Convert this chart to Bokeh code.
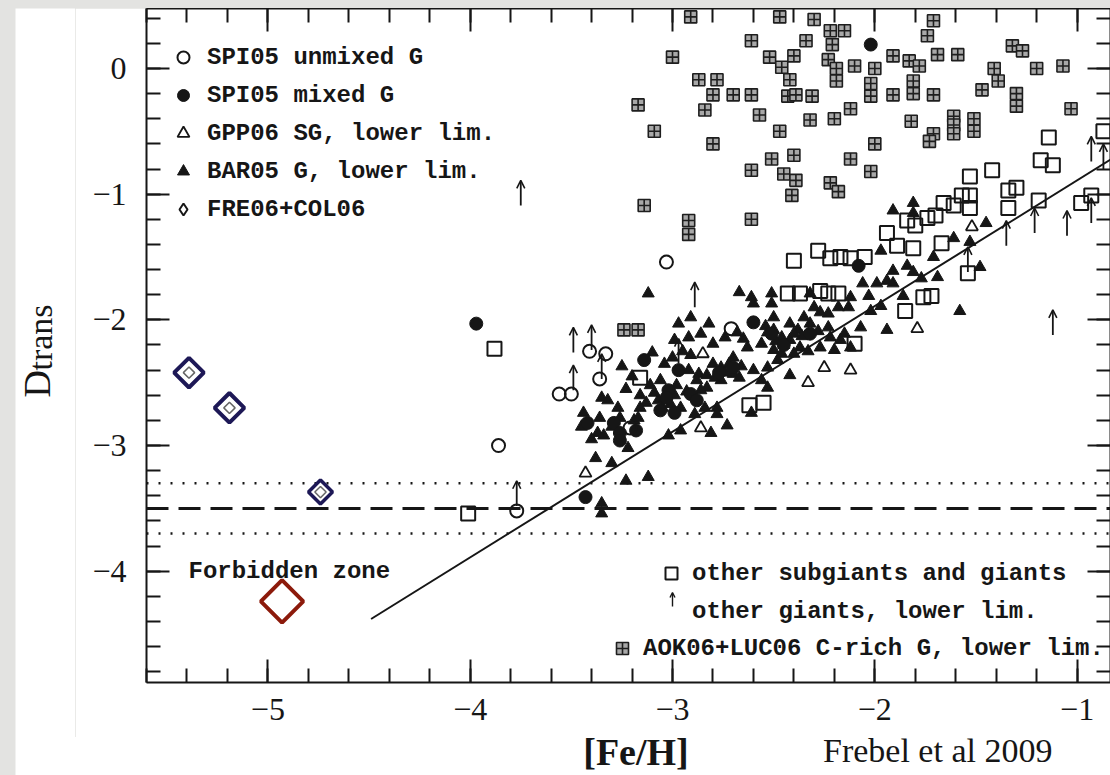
import numpy as np
from bokeh.plotting import figure
from bokeh.models import (ColumnDataSource, FixedTicker, LinearAxis, Span, Label,
                          Legend, LegendItem, Arrow, OpenHead, Range1d, Div)
from bokeh.layouts import column, row
from bokeh.embed import file_html
from bokeh.resources import INLINE

# ---------------- ticks ----------------
x_ticks = [-5, -4, -3, -2, -1]
x_tick_labels = ["\u22125", "\u22124", "\u22123", "\u22122", "\u22121"]
y_ticks = [-4, -3, -2, -1, 0]
y_tick_labels = ["\u22124", "\u22123", "\u22122", "\u22121", "0"]

# ---------------- data ([Fe/H], D_trans) ----------------
# SPI05 unmixed giants (open circles)
spi_unmixed_x = [-3.03, -3.86, -3.56, -3.50, -3.41, -3.33, -3.36, -3.77, -2.71, -3.21]
spi_unmixed_y = [-1.54, -3.00, -2.59, -2.59, -2.25, -2.27, -2.47, -3.52, -2.07, -2.86]

# SPI05 mixed giants (filled circles)
spi_mixed_x = [-3.97, -3.43, -2.02, -3.14, -2.97, -3.02, -3.06, -2.99, -3.42, -3.29,
               -3.26, -3.26, -2.60, -2.08, -2.51, -2.32, -2.91, -3.03, -2.77, -2.45,
               -2.70, -2.88, -3.18]
spi_mixed_y = [-2.03, -3.41, 0.19, -2.32, -2.40, -2.56, -2.72, -2.74, -2.82, -2.82,
               -2.90, -2.96, -2.02, -1.57, -2.11, -2.11, -2.59, -2.62, -2.42, -2.20,
               -2.38, -2.64, -2.88]

# GPP06 subgiants, lower limits (open triangles)
gpp_x = [-1.79, -2.25, -2.12, -2.33, -2.86, -3.43, -2.85, -1.52]
gpp_y = [-2.07, -2.38, -2.40, -2.50, -2.86, -3.22, -2.27, -1.26]

# BAR05 giants, lower limits (small filled triangles)
bar_points = [
    (-1.58, -1.93), (-1.94, -2.08), (-2.42, -2.44), (-2.73, -2.84), (-2.81, -2.90),
    (-3.12, -1.79), (-3.25, -2.37), (-3.38, -3.10), (-3.23, -3.28), (-3.12, -3.25),
    (-3.35, -3.54), (-3.35, -3.46), (-2.67, -1.78), (-2.61, -1.82), (-2.60, -1.87),
    (-2.51, -1.79), (-2.51, -1.87), (-2.91, -1.98), (-2.97, -2.03), (-2.82, -2.03),
    (-2.54, -2.05), (-2.50, -2.08), (-3.10, -2.26), (-3.04, -2.35), (-2.92, -2.40),
    (-2.87, -2.43), (-2.83, -2.44), (-2.76, -2.38), (-2.70, -2.30), (-2.63, -2.22),
    (-2.56, -2.19), (-2.50, -2.24), (-2.80, -2.19), (-2.99, -2.16), (-2.92, -2.14),
    (-2.86, -2.11), (-3.07, -2.64), (-3.01, -2.67), (-2.96, -2.70), (-2.83, -2.54),
    (-2.76, -2.48), (-2.70, -2.43), (-2.60, -2.40), (-2.53, -2.38), (-2.48, -2.32),
    (-2.89, -2.75), (-2.84, -2.70), (-2.78, -2.70), (-2.56, -2.48), (-2.53, -2.54),
    (-2.61, -2.74), (-2.96, -2.88), (-3.02, -2.92), (-2.78, -2.75), (-3.35, -2.62),
    (-3.32, -2.64), (-3.27, -2.70), (-3.44, -2.74), (-3.37, -2.90), (-3.34, -2.92),
    (-3.26, -2.78), (-3.19, -2.80), (-3.17, -2.78), (-3.22, -3.02), (-3.16, -2.70),
    (-3.30, -3.14), (-1.91, -1.13), (-1.81, -1.07), (-1.81, -1.15), (-1.97, -1.45),
    (-1.91, -1.61), (-1.84, -1.57), (-1.81, -1.62), (-1.77, -1.67), (-1.69, -1.66),
    (-1.71, -1.50), (-1.61, -1.35), (-1.53, -1.38), (-1.45, -1.23), (-1.48, -1.58),
    (-2.07, -2.06), (-2.06, -1.71), (-2.03, -1.81), (-1.99, -1.71), (-1.94, -1.69),
    (-1.91, -1.71), (-1.86, -1.81), (-1.97, -1.89), (-2.12, -1.82), (-2.18, -1.90),
    (-2.13, -1.90), (-2.50, -1.98), (-2.32, -1.79), (-2.30, -1.90), (-2.23, -1.95),
    (-2.35, -1.98), (-2.27, -1.94), (-2.38, -2.08), (-2.46, -2.14), (-2.42, -2.16),
    (-2.37, -2.22), (-2.40, -2.27), (-2.23, -2.06), (-2.22, -2.14), (-2.17, -2.16),
    (-2.15, -2.11), (-2.12, -2.22), (-2.27, -2.22), (-2.20, -2.24), (-2.46, -2.27),
    (-2.02, -1.93), (-2.42, -2.03), (-2.32, -2.03), (-3.06, -2.48), (-3.11, -2.52),
    (-2.91, -2.28), (-3.16, -2.60), (-3.09, -2.58), (-3.04, -2.62), (-2.99, -2.60),
    (-3.05, -2.70), (-2.98, -2.52), (-2.93, -2.57), (-3.13, -2.66), (-2.80, -2.35),
    (-2.74, -2.42), (-2.79, -2.46), (-2.72, -2.35), (-2.66, -2.37), (-2.67, -2.46),
    (-2.88, -2.48), (-2.86, -2.56), (-2.53, -2.10), (-2.45, -2.20), (-2.36, -2.13),
    (-2.33, -2.25), (-2.40, -2.11), (-2.49, -2.17), (-2.28, -2.09), (-2.65, -2.15),
    (-2.68, -2.10), (-2.74, -2.14), (-2.95, -2.25), (-3.00, -2.30), (-3.20, -2.45),
    (-3.23, -2.55), (-3.30, -2.85), (-3.36, -2.78), (-3.40, -2.95), (-3.45, -2.85),
]

# FRE06+COL06 (highlighted open diamonds)
fre_x = [-5.39, -5.19, -4.74]
fre_y = [-2.42, -2.70, -3.37]

# highlighted red diamond
red_x = [-4.93]
red_y = [-4.24]

# other subgiants and giants (open squares)
other_points = [
    (-3.88, -2.23), (-4.01, -3.54), (-3.16, -2.46), (-2.62, -2.68), (-2.55, -2.66),
    (-1.85, -1.93), (-1.76, -1.82), (-1.72, -1.81), (-2.43, -1.79), (-2.37, -1.79),
    (-2.27, -1.77), (-2.23, -1.79), (-2.18, -1.79), (-2.10, -2.19), (-2.40, -1.53),
    (-2.28, -1.45), (-2.22, -1.51), (-2.17, -1.50), (-2.12, -1.51), (-2.05, -1.50),
    (-1.94, -1.31), (-1.89, -1.41), (-1.81, -1.43), (-1.84, -1.21), (-1.80, -1.25),
    (-1.74, -1.19), (-1.70, -1.17), (-1.66, -1.07), (-1.61, -1.09), (-1.57, -1.01),
    (-1.53, -1.01), (-1.53, -1.11), (-1.67, -1.39), (-1.34, -0.97), (-1.30, -0.95),
    (-1.34, -1.11), (-0.98, -1.07), (-0.93, -1.01), (-1.54, -1.63), (-1.14, -0.55),
    (-1.18, -0.73), (-1.12, -0.77), (-1.42, -0.81), (-1.53, -0.86), (-0.87, -0.50),
    (-1.19, -1.05),
]

# other giants, lower limits (arrows; base value)
lim_x = [-3.75, -2.89, -3.77, -1.12, -1.35, -1.21, -1.05, -0.93, -0.93, -0.87,
         -3.49, -3.40, -3.49, -3.35, -1.54, -2.97]
lim_y = [-1.09, -1.90, -3.48, -2.12, -1.41, -1.31, -1.33, -1.23, -0.74, -0.80,
         -2.26, -2.24, -2.56, -2.47, -1.62, -2.35]

# AOK06+LUC06 C-rich giants, lower limits (crossed squares)
aok_points = [
    (-2.91, 0.41), (-2.47, 0.41), (-2.30, 0.39), (-2.22, 0.30), (-2.15, 0.30),
    (-2.61, 0.22), (-2.34, 0.22), (-2.21, 0.19), (-3.00, 0.09), (-2.52, 0.09),
    (-2.40, 0.10), (-2.46, 0.01), (-2.23, 0.07), (-2.19, 0.00), (-2.10, 0.02),
    (-2.87, -0.09), (-2.78, -0.09), (-2.42, -0.09), (-2.19, -0.10), (-2.80, -0.21),
    (-2.70, -0.21), (-2.61, -0.21), (-2.43, -0.22), (-2.39, -0.21), (-2.31, -0.22),
    (-3.17, -0.29), (-2.84, -0.33), (-2.57, -0.37), (-2.12, -0.32), (-2.32, -0.41),
    (-2.20, -0.40), (-3.09, -0.50), (-2.47, -0.50), (-2.80, -0.60), (-2.51, -0.72),
    (-2.40, -0.69), (-2.12, -0.72), (-2.61, -0.81), (-2.45, -0.84), (-2.39, -0.89),
    (-2.22, -0.91), (-2.18, -0.98), (-2.41, -1.01), (-3.14, -1.09), (-2.61, -1.20),
    (-2.92, -1.21), (-2.92, -1.32), (-1.71, 0.38), (-1.74, 0.26), (-1.91, 0.10),
    (-1.83, 0.06), (-1.78, 0.02), (-1.69, 0.11), (-1.59, 0.11), (-1.32, 0.18),
    (-1.27, 0.14), (-2.00, 0.00), (-2.02, -0.12), (-2.02, -0.22), (-1.81, -0.10),
    (-1.81, -0.20), (-1.91, -0.21), (-1.71, -0.21), (-1.41, 0.00), (-1.39, -0.10),
    (-1.47, -0.17), (-1.30, -0.20), (-1.30, -0.30), (-1.20, 0.00), (-1.07, 0.02),
    (-1.03, -0.32), (-1.82, -0.42), (-1.61, -0.38), (-1.61, -0.45), (-1.61, -0.52),
    (-1.51, -0.40), (-1.51, -0.50), (-1.71, -0.52), (-1.73, -0.58), (-2.00, -0.60),
    (-2.02, -0.82), (-3.24, -2.08), (-3.17, -2.08),
]

# reference relation (solid line) and D_trans limits (horizontal lines)
line_x = [-4.49, -0.83]
line_y = [-4.38, -0.72]
dtrans_crit = -3.5
dtrans_err = [-3.3, -3.7]

# ---------------- styling constants ----------------
INK = "#161616"
NAVY = "#1d1856"
DARKRED = "#8c1a0b"
SERIF = "Liberation Serif"
MONO = "Liberation Mono"
ARROW_LEN = 0.2
NAN = float("nan")

# ---------------- main plot ----------------
p = figure(width=1035, height=729,
           x_range=Range1d(-5.6, -0.835), y_range=Range1d(-4.885, 0.477),
           output_backend="svg", toolbar_location=None,
           x_axis_location=None, y_axis_location=None,
           min_border_left=71, min_border_right=0, min_border_top=0, min_border_bottom=55)
p.outline_line_color = None
p.background_fill_color = "white"
p.border_fill_color = "white"
p.grid.visible = False

x_minor = [round(float(v), 1) for v in np.arange(-5.6, -0.79, 0.2)]
y_minor = [round(float(v), 1) for v in np.arange(-4.8, 0.41, 0.2)]


def make_axis(ticks, minor, labels=None, standoff=0):
    ax = LinearAxis(ticker=FixedTicker(ticks=ticks, minor_ticks=minor))
    ax.axis_line_color = INK
    ax.axis_line_width = 2
    ax.major_tick_line_color = INK
    ax.major_tick_line_width = 2
    ax.minor_tick_line_color = INK
    ax.minor_tick_line_width = 2
    ax.major_tick_in = 23
    ax.major_tick_out = 0
    ax.minor_tick_in = 14
    ax.minor_tick_out = 0
    if labels is None:
        ax.major_label_overrides = {t: "" for t in ticks}
        ax.major_label_text_font_size = "0px"
        ax.major_label_standoff = 0
    else:
        ax.major_label_overrides = dict(zip(ticks, labels))
        ax.major_label_text_font = SERIF
        ax.major_label_text_font_size = "32px"
        ax.major_label_text_color = INK
        ax.major_label_standoff = standoff
    return ax


p.add_layout(make_axis(x_ticks, x_minor, x_tick_labels, 16), "below")
p.add_layout(make_axis(y_ticks, y_minor, y_tick_labels, 20), "left")
p.add_layout(make_axis(x_ticks, x_minor), "above")
p.add_layout(make_axis(y_ticks, y_minor), "right")

# horizontal D_trans lines
p.add_layout(Span(location=dtrans_crit, dimension="width", line_color=INK,
                  line_width=3, line_dash="22 10", level="underlay"))
for v in dtrans_err:
    p.add_layout(Span(location=v, dimension="width", line_color=INK,
                      line_width=2.5, line_dash="2 10", level="underlay"))

# solid relation line
p.line(line_x, line_y, line_color=INK, line_width=2)

# data
aok_x = [pt[0] for pt in aok_points]
aok_y = [pt[1] for pt in aok_points]
r_aok = p.scatter(aok_x, aok_y, marker="square_cross", size=12, fill_color="#a8a8a8",
                  line_color="#1e1e1e", line_width=1.6)

oth_x = [pt[0] for pt in other_points]
oth_y = [pt[1] for pt in other_points]
r_oth = p.scatter(oth_x, oth_y, marker="square", size=14, fill_color=None,
                  line_color=INK, line_width=2)

bar_x = [pt[0] for pt in bar_points]
bar_y = [pt[1] for pt in bar_points]
r_bar = p.scatter(bar_x, bar_y, marker="triangle", size=12, fill_color=INK,
                  line_color=INK, line_width=1)

r_gpp = p.scatter(gpp_x, gpp_y, marker="triangle", size=12, fill_color=None,
                  line_color=INK, line_width=1.8)
r_mix = p.scatter(spi_mixed_x, spi_mixed_y, marker="circle", size=13, fill_color=INK,
                  line_color=INK, line_width=1)
r_unm = p.scatter(spi_unmixed_x, spi_unmixed_y, marker="circle", size=13, fill_color=None,
                  line_color=INK, line_width=2)

# lower-limit arrows
arrow_src = ColumnDataSource(dict(x=lim_x, y=lim_y, y_tip=[v + ARROW_LEN for v in lim_y]))
p.add_layout(Arrow(end=OpenHead(size=8, line_width=1.6, line_color=INK),
                   x_start="x", y_start="y", x_end="x", y_end="y_tip",
                   source=arrow_src, line_width=1.8, line_color=INK))

# FRE06+COL06 stars: small originals + highlighted overlays
p.scatter(fre_x, fre_y, marker="square", angle=np.pi / 4, size=8, fill_color=None,
          line_color="#666666", line_width=1.5)
p.scatter(fre_x[:2], fre_y[:2], marker="square", angle=np.pi / 4, size=21, fill_color=None,
          line_color=NAVY, line_width=4)
p.scatter(fre_x[2:], fre_y[2:], marker="square", angle=np.pi / 4, size=17, fill_color=None,
          line_color=NAVY, line_width=3.5)
p.scatter(red_x, red_y, marker="square", angle=np.pi / 4, size=30, fill_color=None,
          line_color=DARKRED, line_width=4)

# legend-only proxies (not visible in the data area)
r_fre_leg = p.scatter([NAN], [NAN], marker="diamond", size=12, fill_color=None,
                      line_color=INK, line_width=2)
r_lim_leg = p.scatter([NAN], [NAN], marker="circle", size=1, fill_alpha=0, line_alpha=0)

leg_common = dict(orientation="vertical", padding=0, margin=0, spacing=8,
                  glyph_width=30, glyph_height=30, label_height=30,
                  label_text_font=MONO, label_text_font_size="24px",
                  label_text_font_style="bold", label_text_color=INK,
                  background_fill_alpha=0, border_line_alpha=0)

leg1 = Legend(items=[
    LegendItem(label="SPI05 unmixed G", renderers=[r_unm]),
    LegendItem(label="SPI05 mixed G", renderers=[r_mix]),
    LegendItem(label="GPP06 SG, lower lim.", renderers=[r_gpp]),
    LegendItem(label="BAR05 G, lower lim.", renderers=[r_bar]),
    LegendItem(label="FRE06+COL06", renderers=[r_fre_leg]),
], location=(22, 458), label_standoff=9, **leg_common)
p.add_layout(leg1)

leg2 = Legend(items=[
    LegendItem(label="other subgiants and giants", renderers=[r_oth]),
    LegendItem(label="other giants, lower lim.", renderers=[r_lim_leg]),
], location=(510, 56), label_standoff=6, **leg_common)
p.add_layout(leg2)

leg3 = Legend(items=[
    LegendItem(label="AOK06+LUC06 C-rich G, lower lim.", renderers=[r_aok]),
], location=(461, 19), label_standoff=6, **leg_common)
p.add_layout(leg3)

# arrow symbol for the "lower lim." legend entry (screen units)
p.add_layout(Arrow(end=OpenHead(size=5, line_width=1.4, line_color=INK),
                   x_start=526, y_start=76, x_end=526, y_end=90,
                   start_units="screen", end_units="screen",
                   line_width=1.4, line_color=INK))

p.add_layout(Label(x=42, y=111, x_units="screen", y_units="screen", text="Forbidden zone",
                   text_font=MONO, text_font_style="bold", text_font_size="24px",
                   text_color=INK, text_baseline="middle", text_align="left"))

# ---------------- y-axis title strip ----------------
left_strip = figure(width=60, height=767, x_range=Range1d(0, 1), y_range=Range1d(0, 1),
                    output_backend="svg", toolbar_location=None,
                    x_axis_location=None, y_axis_location=None, min_border=0)
left_strip.outline_line_color = None
left_strip.background_fill_color = "white"
left_strip.border_fill_color = "white"
left_strip.grid.visible = False
left_strip.add_layout(Label(x=21, y=378, x_units="screen", y_units="screen", text="D",
                            angle=np.pi / 2, text_font=SERIF, text_font_size="38px",
                            text_color=INK, text_align="left", text_baseline="alphabetic"))
left_strip.add_layout(Label(x=25, y=405, x_units="screen", y_units="screen", text="trans",
                            angle=np.pi / 2, text_font=SERIF, text_font_size="34px",
                            text_color=INK, text_align="left", text_baseline="alphabetic"))

# ---------------- x-axis title strip ----------------
bottom_html = (
    '<div style="position:relative;width:1035px;height:38px;background:white;overflow:visible;">'
    '<span style="position:absolute;left:561px;top:0px;transform:translateX(-50%);'
    "font-family:'Liberation Serif';font-weight:bold;font-size:38px;line-height:30px;"
    'color:#161616;white-space:nowrap;">[Fe/H]</span>'
    '<span style="position:absolute;left:748px;top:0px;'
    "font-family:'Liberation Serif';font-size:34px;line-height:28px;"
    'color:#161616;white-space:nowrap;">Frebel et al 2009</span>'
    '</div>'
)
bottom_div = Div(text=bottom_html, width=1035, height=38, margin=0,
                 styles={"background-color": "white", "overflow": "visible"})

inner = row(left_strip, column(p, bottom_div, spacing=0), spacing=0)
inner.margin = (8, 0, 0, 15)
layout = column(inner, styles={"background-color": "#e3e3e1"})
open("out.html", "w").write(file_html(layout, INLINE))
